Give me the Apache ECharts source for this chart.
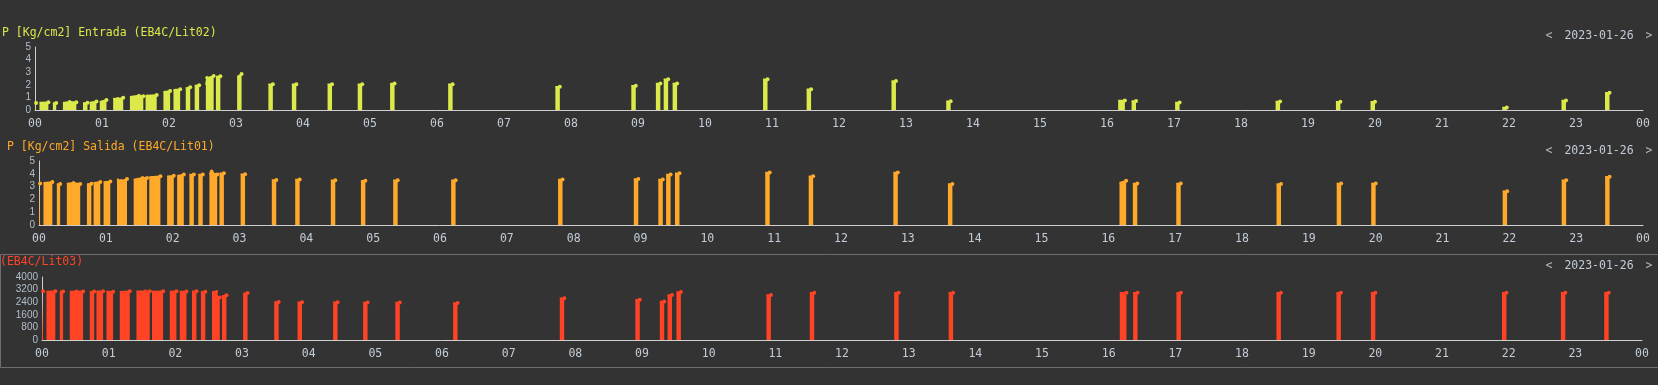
<!DOCTYPE html>
<html>
<head>
<meta charset="utf-8">
<script src="https://cdn.jsdelivr.net/npm/echarts@6/dist/echarts.min.js"></script>
<style>
html,body{margin:0;padding:0;background:#333333;}
#c{width:1658px;height:385px;}
</style>
</head>
<body>
<div id="c"></div>
<script>
// ---- data ----
const dateLabel = '2023-01-26';
const hourLabels = ['00','01','02','03','04','05','06','07','08','09','10','11','12','13','14','15','16','17','18','19','20','21','22','23','00'];
const titles = ['P [Kg/cm2] Entrada (EB4C/Lit02)', 'P [Kg/cm2] Salida (EB4C/Lit01)', '(EB4C/Lit03)'];
const colors = ['#dbe94a', '#ffa92b', '#ff4325'];

// pump-on segments: [time, value] points, gaps between segments are empty
const entrada = [
  [['00:00',0.55],['00:01',0.55]],
  [['00:04',0.6],['00:12',0.62]],
  [['00:16',0.55],['00:19',0.55]],
  [['00:25',0.58],['00:31',0.65],['00:37',0.62]],
  [['00:43',0.55],['00:47',0.58]],
  [['00:49',0.6],['00:55',0.68]],
  [['00:58',0.65],['01:04',0.8]],
  [['01:10',0.92],['01:14',0.9],['01:19',0.98]],
  [['01:25',1.05],['01:33',1.15],['01:37',1.1]],
  [['01:39',1.15],['01:49',1.2]],
  [['01:55',1.45],['02:01',1.5]],
  [['02:04',1.6],['02:10',1.65]],
  [['02:15',1.75],['02:19',1.8]],
  [['02:23',1.95],['02:27',1.97]],
  [['02:33',2.0],['02:34',2.55],['02:40',2.7]],
  [['02:42',2.65],['02:46',2.67]],
  [['03:01',2.65],['03:05',2.85]],
  [['03:29',2.05],['03:33',2.05]],
  [['03:50',2.05],['03:54',2.05]],
  [['04:22',2.05],['04:26',2.05]],
  [['04:49',2.05],['04:53',2.05]],
  [['05:18',2.1],['05:22',2.1]],
  [['06:10',2.05],['06:14',2.05]],
  [['07:46',1.85],['07:50',1.85]],
  [['08:54',1.92],['08:58',1.92]],
  [['09:16',2.1],['09:20',2.1]],
  [['09:23',2.45],['09:27',2.45]],
  [['09:31',2.1],['09:35',2.1]],
  [['10:52',2.45],['10:56',2.45]],
  [['11:31',1.65],['11:35',1.65]],
  [['12:47',2.3],['12:51',2.3]],
  [['13:36',0.7],['13:40',0.7]],
  [['16:10',0.75],['16:16',0.75]],
  [['16:22',0.72],['16:26',0.72]],
  [['17:01',0.6],['17:05',0.6]],
  [['18:31',0.68],['18:35',0.68]],
  [['19:25',0.66],['19:29',0.66]],
  [['19:56',0.66],['20:00',0.66]],
  [['21:54',0.2],['21:58',0.2]],
  [['22:47',0.76],['22:51',0.76]],
  [['23:26',1.37],['23:30',1.37]]
];

const salida = [
  [['00:00',3.24],['00:01',3.24]],
  [['00:04',3.3],['00:12',3.35]],
  [['00:16',3.2],['00:19',3.2]],
  [['00:25',3.25],['00:31',3.3],['00:37',3.2]],
  [['00:43',3.2],['00:47',3.22]],
  [['00:49',3.3],['00:55',3.35]],
  [['00:58',3.35],['01:04',3.4]],
  [['01:10',3.6],['01:14',3.45],['01:19',3.6]],
  [['01:25',3.55],['01:33',3.7],['01:37',3.68]],
  [['01:39',3.75],['01:49',3.8]],
  [['01:55',3.8],['02:01',3.85]],
  [['02:04',3.85],['02:10',3.95]],
  [['02:15',3.95],['02:19',3.95]],
  [['02:23',3.95],['02:27',3.95]],
  [['02:33',4.0],['02:35',4.2],['02:38',3.95],['02:40',3.95]],
  [['02:42',4.05],['02:46',4.05]],
  [['03:01',3.96],['03:05',3.96]],
  [['03:29',3.52],['03:33',3.52]],
  [['03:50',3.55],['03:54',3.55]],
  [['04:22',3.5],['04:26',3.5]],
  [['04:49',3.45],['04:53',3.45]],
  [['05:18',3.5],['05:22',3.5]],
  [['06:10',3.5],['06:14',3.5]],
  [['07:46',3.55],['07:50',3.55]],
  [['08:54',3.6],['08:58',3.6]],
  [['09:16',3.55],['09:20',3.55]],
  [['09:23',3.95],['09:27',3.95]],
  [['09:31',4.05],['09:35',4.05]],
  [['10:52',4.1],['10:56',4.1]],
  [['11:31',3.8],['11:35',3.8]],
  [['12:47',4.1],['12:51',4.1]],
  [['13:36',3.2],['13:40',3.2]],
  [['16:10',3.3],['16:16',3.45]],
  [['16:22',3.25],['16:26',3.25]],
  [['17:01',3.25],['17:05',3.25]],
  [['18:31',3.2],['18:35',3.2]],
  [['19:25',3.25],['19:29',3.25]],
  [['19:56',3.25],['20:00',3.25]],
  [['21:54',2.64],['21:58',2.64]],
  [['22:47',3.5],['22:51',3.5]],
  [['23:26',3.76],['23:30',3.76]]
];

const lit03 = [
  [['00:00',3090],['00:01',3090]],
  [['00:04',3080],['00:12',3090]],
  [['00:16',3080],['00:19',3080]],
  [['00:25',3080],['00:31',3090],['00:37',3080]],
  [['00:43',3070],['00:47',3080]],
  [['00:49',3090],['00:55',3090]],
  [['00:58',3080],['01:04',3070]],
  [['01:10',3070],['01:19',3090]],
  [['01:25',3090],['01:33',3100],['01:37',3090]],
  [['01:39',3080],['01:49',3090]],
  [['01:55',3080],['02:01',3090]],
  [['02:04',3080],['02:10',3080]],
  [['02:15',3100],['02:19',3100]],
  [['02:23',3060],['02:27',3060]],
  [['02:33',3060],['02:37',3060],['02:38',2700],['02:40',2700]],
  [['02:42',2800],['02:46',2840]],
  [['03:01',2950],['03:05',2990]],
  [['03:29',2420],['03:33',2420]],
  [['03:50',2400],['03:54',2400]],
  [['04:22',2400],['04:26',2400]],
  [['04:49',2380],['04:53',2380]],
  [['05:18',2380],['05:22',2380]],
  [['06:10',2350],['06:14',2350]],
  [['07:46',2650],['07:50',2650]],
  [['08:54',2550],['08:58',2550]],
  [['09:16',2450],['09:20',2450]],
  [['09:23',2850],['09:27',2850]],
  [['09:31',3050],['09:35',3050]],
  [['10:52',2850],['10:56',2850]],
  [['11:31',3000],['11:35',3000]],
  [['12:47',3000],['12:51',3000]],
  [['13:36',3000],['13:40',3000]],
  [['16:10',3000],['16:16',3000]],
  [['16:22',3000],['16:26',3000]],
  [['17:01',3000],['17:05',3000]],
  [['18:31',3000],['18:35',3000]],
  [['19:25',3000],['19:29',3000]],
  [['19:56',3000],['20:00',3000]],
  [['21:54',3000],['21:58',3000]],
  [['22:47',3000],['22:51',3000]],
  [['23:26',3000],['23:30',3000]]
];

// ---- build ----
function toMin(s){ const p = s.split(':').map(Number); return p[0]*60 + p[1]; }
function build(segs){
  const out = [];
  segs.forEach(seg => {
    seg.forEach((p, k) => out.push({
      value:[toMin(p[0]), p[1]],
      symbolSize: k === seg.length - 1 ? 4 : (k === 0 ? 0 : 3.5)
    }));
    out.push({value:[toMin(seg[seg.length-1][0]) + 0.5, null]});
  });
  return out;
}

const mono = 'DejaVu Sans Mono';
const grids = [
  {left:35, right:15, top:47, height:63},
  {left:39, right:15, top:161, height:64},
  {left:42, right:16, top:277, height:63}
];
const yMax = [5, 5, 4000];
const yInt = [1, 1, 800];
const seriesData = [entrada, salida, lit03];

const xAxes = grids.map((g,i) => ({
  type:'value', gridIndex:i, min:0, max:1440, interval:60,
  axisLine:{show:true, lineStyle:{color:'#cfcfcf', width:1}},
  axisTick:{show:false}, splitLine:{show:false},
  axisLabel:{color:'#c3cdd8', fontFamily:mono, fontSize:11.5, margin:8,
    formatter: v => hourLabels[Math.round(v/60)]}
}));
const yAxes = grids.map((g,i) => ({
  type:'value', gridIndex:i, min:0, max:yMax[i], interval:yInt[i],
  axisLine:{show:true, lineStyle:{color:'#cfcfcf', width:1}},
  axisTick:{show:false}, splitLine:{show:false},
  axisLabel:{color:'#b3bfcc', fontFamily:'Liberation Sans', fontSize:10, margin:4,
    formatter: v => String(v)}
}));
const series = seriesData.map((d,i) => ({
  type:'line', xAxisIndex:i, yAxisIndex:i, data:build(d),
  connectNulls:false, showSymbol:true, symbol:'circle', symbolSize:4,
  lineStyle:{color:colors[i], width:1.5},
  itemStyle:{color:colors[i]},
  areaStyle:{color:colors[i], opacity:1},
  animation:false, silent:true
}));

const titleY = [34, 148, 263];
const titleX = [2, 7, 0];
const dateY = [36, 151, 266];
const graphic = [];
titles.forEach((t,i) => {
  graphic.push({type:'text', left:titleX[i], top:titleY[i]-7,
    style:{text:t, fill:colors[i], font:'11.5px "DejaVu Sans Mono"'}});
  graphic.push({type:'text', x:1549, y:dateY[i], style:{text:'<', fill:'#b0b8c0', font:'11.5px "DejaVu Sans Mono"', align:'center', verticalAlign:'middle'}});
  graphic.push({type:'text', x:1599, y:dateY[i], style:{text:dateLabel, fill:'#c3cdd8', font:'11.5px "DejaVu Sans Mono"', align:'center', verticalAlign:'middle'}});
  graphic.push({type:'text', x:1649, y:dateY[i], style:{text:'>', fill:'#b0b8c0', font:'11.5px "DejaVu Sans Mono"', align:'center', verticalAlign:'middle'}});
});
graphic.push({type:'polyline', shape:{points:[[1658,254.5],[0.5,254.5],[0.5,367.5],[1658,367.5]]},
  style:{stroke:'#6e6e6e', lineWidth:1, fill:null}, silent:true});

const chart = echarts.init(document.getElementById('c'), null, {renderer:'canvas'});
chart.setOption({
  backgroundColor:'#333333',
  animation:false,
  grid: grids,
  xAxis: xAxes,
  yAxis: yAxes,
  series: series,
  graphic: graphic
});
</script>
</body>
</html>
